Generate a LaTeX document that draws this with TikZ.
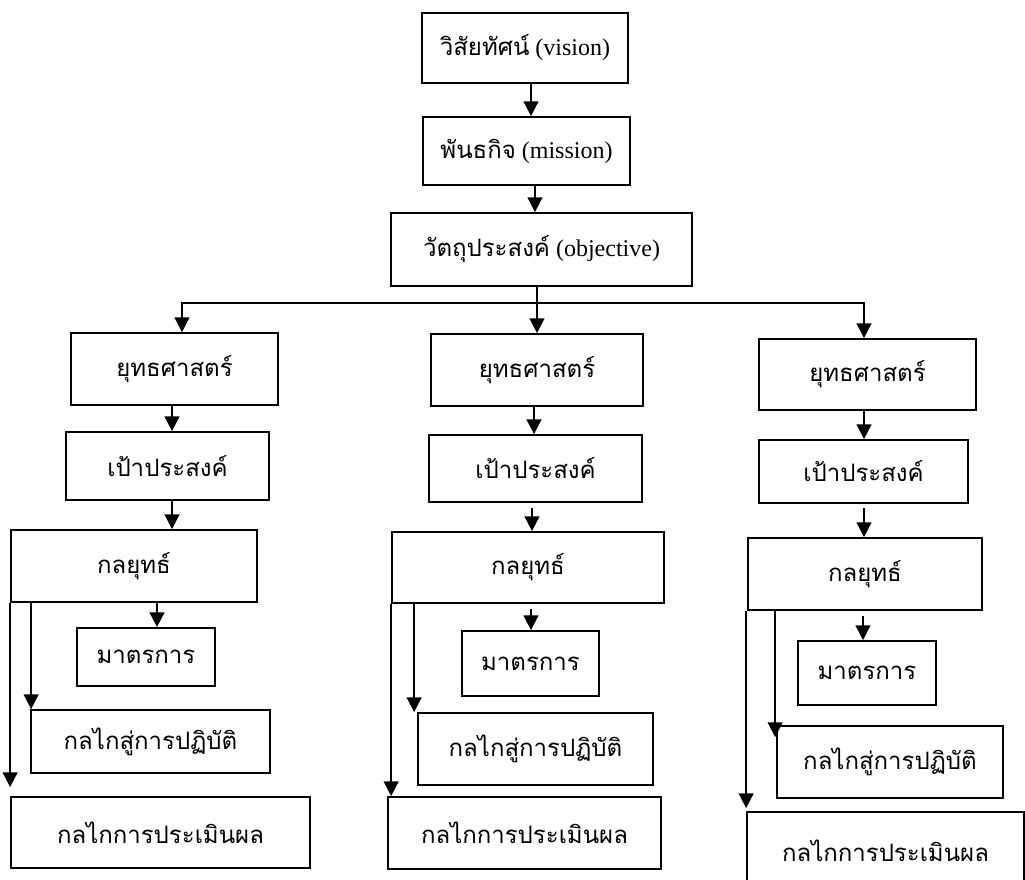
\documentclass[tikz,border=0pt]{standalone}
\usepackage{fontspec}
\setmainfont{Liberation Serif}
\newfontfamily\thaifont[Script=Thai,Scale=1.0]{Loma}
\newcommand{\Th}[1]{{\thaifont #1}}
\usetikzlibrary{arrows.meta}
\tikzstyle{Box}=[draw,line width=1.3pt,inner sep=0pt,
font=\fontsize{18}{22}\selectfont]
\tikzstyle{Arrow}=[line width=1.3pt,-{Triangle[length=11pt,width=11pt]}]
\tikzset{Size/.style 2 args={minimum width=#1*0.75pt,minimum height=#2*0.75pt}}

\begin{document}
\begin{tikzpicture}[x=0.75pt,y=-0.75pt]
        \clip(0,0)rectangle(1025,880);
        \node[Box,Size={206}{70}](vision)at(525,48){\Th{วิสัยทัศน์} (vision)};
        \node[Box,Size={207}{68}](mission)at(526.5,151){\Th{พันธกิจ} (mission)};
        \node[Box,Size={301}{73}](objective)at(541.5,249.5)
            {\Th{วัตถุประสงค์} (objective)};
        % left column
        \node[Box,Size={207}{72}](s1)at(174.5,369){\Th{ยุทธศาสตร์}};
        \node[Box,Size={203}{68}](g1)at(167.5,466){\Th{เป้าประสงค์}};
        \node[Box,Size={246}{72}](t1)at(134,566){\Th{กลยุทธ์}};
        \node[Box,Size={138}{58}](m1)at(146,657){\Th{มาตรการ}};
        \node[Box,Size={239}{63}](i1)at(150.5,741.5){\Th{กลไกสู่การปฏิบัติ}};
        \node[Box,Size={299}{71}](e1)at(160.5,832.5){\Th{กลไกการประเมินผล}};
        % middle column
        \node[Box,Size={212}{72}](s2)at(537,370){\Th{ยุทธศาสตร์}};
        \node[Box,Size={213}{67}](g2)at(535.5,468.5){\Th{เป้าประสงค์}};
        \node[Box,Size={272}{71}](t2)at(528,567.5){\Th{กลยุทธ์}};
        \node[Box,Size={137}{65}](m2)at(530.5,663.5){\Th{มาตรการ}};
        \node[Box,Size={235}{72}](i2)at(535.5,749){\Th{กลไกสู่การปฏิบัติ}};
        \node[Box,Size={273}{72}](e2)at(524.5,833){\Th{กลไกการประเมินผล}};
        % right column
        \node[Box,Size={217}{71}](s3)at(867.5,374.5){\Th{ยุทธศาสตร์}};
        \node[Box,Size={209}{63}](g3)at(863.5,471.5){\Th{เป้าประสงค์}};
        \node[Box,Size={234}{72}](t3)at(865,574){\Th{กลยุทธ์}};
        \node[Box,Size={138}{64}](m3)at(867,673){\Th{มาตรการ}};
        \node[Box,Size={226}{72}](i3)at(890,762){\Th{กลไกสู่การปฏิบัติ}};
        \node[Box,Size={277}{78}](e3)at(885.5,851){\Th{กลไกการประเมินผล}};
        % top chain
        \draw[Arrow]([shift={(6,0)}]vision.south)--([shift={(4.5,0)}]mission.north);
        \draw[Arrow]([shift={(8.5,0)}]mission.south)--([shift={(-6.5,0)}]objective.north);
        \draw[Arrow]([shift={(-4.5,0)}]objective.south)--(s2.north);
        \draw[Arrow]([shift={(-4.5,16)}]objective.south)-|([shift={(7.5,0)}]s1.north);
        \draw[Arrow]([shift={(-4.5,16)}]objective.south)-|([shift={(-3.5,0)}]s3.north);
        % left column
        \draw[Arrow]([shift={(-2.5,0)}]s1.south)--([shift={(4.5,0)}]g1.north);
        \draw[Arrow]([shift={(4.5,0)}]g1.south)--([shift={(38,0)}]t1.north);
        \draw[Arrow]([shift={(23,0)}]t1.south)--([shift={(11,0)}]m1.north);
        \draw[Arrow]([shift={(21,0)}]t1.south west)--([shift={(1,0)}]i1.north west);
        \draw[Arrow](t1.south west)--([shift={(0,-9)}]e1.north west);
        % middle column
        \draw[Arrow]([shift={(-3,0)}]s2.south)--([shift={(-1.5,0)}]g2.north);
        \draw[Arrow]([shift={(-3.5,5)}]g2.south)--([shift={(4,0)}]t2.north);
        \draw[Arrow]([shift={(3,5)}]t2.south)--([shift={(0.5,0)}]m2.north);
        \draw[Arrow]([shift={(23,0)}]t2.south west)--([shift={(-3,0)}]i2.north west);
        \draw[Arrow](t2.south west)--([shift={(4,0)}]e2.north west);
        % right column
        \draw[Arrow]([shift={(-3.5,0)}]s3.south)--([shift={(0.5,0)}]g3.north);
        \draw[Arrow]([shift={(0.5,4)}]g3.south)--([shift={(-1,0)}]t3.north);
        \draw[Arrow]([shift={(-2,5)}]t3.south)--([shift={(-4,0)}]m3.north);
        \draw[Arrow]([shift={(28,0)}]t3.south west)--([shift={(-1,12)}]i3.north west);
        \draw[Arrow]([shift={(-1,0)}]t3.south west)--([shift={(0,-3)}]e3.north west);
    \end{tikzpicture}
\end{document}
